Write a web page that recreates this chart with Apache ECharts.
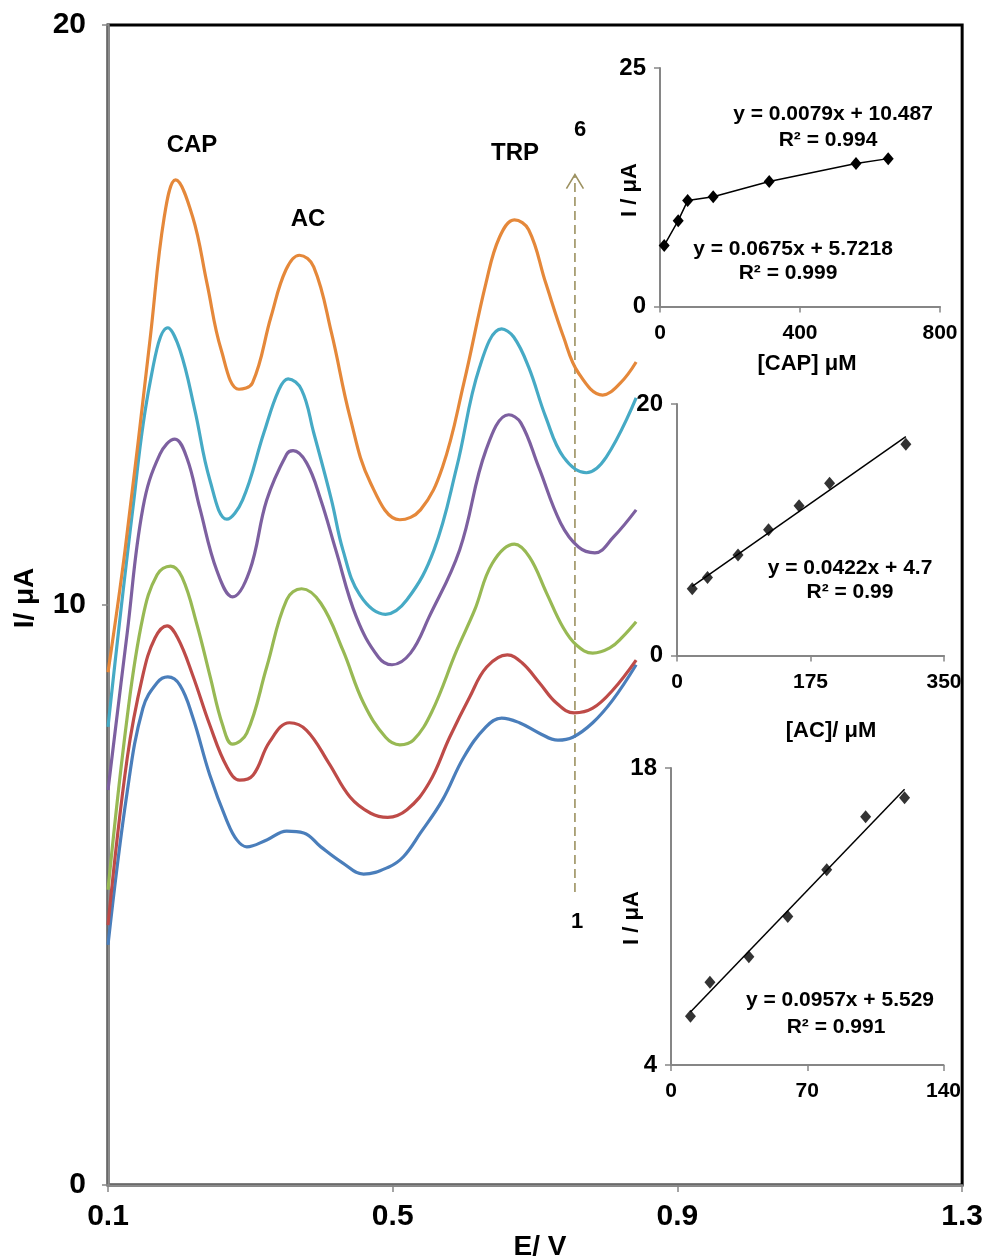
<!DOCTYPE html>
<html>
<head>
<meta charset="utf-8">
<script src="https://cdn.jsdelivr.net/npm/echarts@6/dist/echarts.min.js"></script>
<style>
html, body { margin: 0; padding: 0; background: #fff; }
#chart { width: 986px; height: 1260px; }
</style>
</head>
<body>
<div id="chart"></div>
<script>
// DPV curves 1..6, points as [E (V), I (uA)]
const curve1 = [[0.100, 4.14], [0.127, 6.78], [0.149, 8.22], [0.169, 8.66], [0.184, 8.76], [0.201, 8.62], [0.219, 8.07], [0.243, 7.07], [0.267, 6.28], [0.281, 5.95], [0.295, 5.83], [0.323, 5.95], [0.351, 6.10], [0.375, 6.07], [0.399, 5.83], [0.430, 5.55], [0.459, 5.36], [0.494, 5.48], [0.515, 5.66], [0.539, 6.07], [0.570, 6.64], [0.600, 7.38], [0.631, 7.90], [0.653, 8.05], [0.678, 7.97], [0.706, 7.79], [0.732, 7.67], [0.753, 7.72], [0.781, 7.97], [0.809, 8.36], [0.842, 8.97]]
const curve2 = [[0.100, 4.48], [0.127, 7.36], [0.149, 8.79], [0.166, 9.43], [0.183, 9.64], [0.198, 9.43], [0.219, 8.79], [0.243, 7.93], [0.267, 7.21], [0.285, 6.98], [0.304, 7.07], [0.327, 7.64], [0.355, 7.97], [0.379, 7.84], [0.410, 7.28], [0.440, 6.69], [0.469, 6.41], [0.493, 6.34], [0.520, 6.47], [0.551, 6.93], [0.580, 7.72], [0.608, 8.41], [0.632, 8.93], [0.661, 9.14], [0.682, 9.00], [0.706, 8.66], [0.730, 8.31], [0.755, 8.14], [0.781, 8.22], [0.809, 8.53], [0.842, 9.05]]
const curve3 = [[0.100, 5.09], [0.127, 8.07], [0.149, 9.79], [0.169, 10.52], [0.188, 10.67], [0.204, 10.48], [0.225, 9.66], [0.243, 8.79], [0.261, 7.93], [0.275, 7.60], [0.295, 7.79], [0.323, 8.93], [0.351, 10.09], [0.372, 10.28], [0.399, 10.03], [0.430, 9.22], [0.459, 8.31], [0.490, 7.72], [0.510, 7.59], [0.529, 7.67], [0.555, 8.16], [0.590, 9.22], [0.615, 9.91], [0.640, 10.72], [0.671, 11.05], [0.692, 10.83], [0.716, 10.21], [0.739, 9.62], [0.758, 9.31], [0.781, 9.17], [0.805, 9.26], [0.823, 9.45], [0.842, 9.71]]
const curve4 = [[0.100, 6.81], [0.127, 9.52], [0.149, 11.67], [0.173, 12.60], [0.194, 12.86], [0.211, 12.53], [0.229, 11.67], [0.253, 10.59], [0.275, 10.14], [0.299, 10.59], [0.323, 11.81], [0.351, 12.60], [0.360, 12.66], [0.379, 12.45], [0.399, 11.81], [0.420, 10.95], [0.449, 9.79], [0.480, 9.10], [0.499, 8.97], [0.525, 9.17], [0.551, 9.79], [0.594, 10.95], [0.631, 12.67], [0.663, 13.28], [0.680, 13.14], [0.705, 12.38], [0.736, 11.41], [0.761, 11.00], [0.784, 10.90], [0.810, 11.17], [0.842, 11.64]]
const curve5 = [[0.100, 7.90], [0.135, 11.67], [0.159, 13.83], [0.184, 14.78], [0.201, 14.40], [0.222, 13.36], [0.243, 12.16], [0.267, 11.48], [0.289, 11.81], [0.319, 12.97], [0.340, 13.71], [0.353, 13.90], [0.372, 13.71], [0.389, 12.97], [0.414, 11.81], [0.430, 10.95], [0.454, 10.17], [0.490, 9.84], [0.520, 10.09], [0.558, 10.95], [0.590, 12.38], [0.622, 14.10], [0.653, 14.76], [0.670, 14.62], [0.691, 14.10], [0.715, 13.24], [0.740, 12.55], [0.772, 12.28], [0.800, 12.55], [0.842, 13.57]]
const curve6 = [[0.100, 8.84], [0.124, 10.95], [0.159, 14.57], [0.179, 16.69], [0.195, 17.33], [0.219, 16.69], [0.239, 15.55], [0.259, 14.40], [0.284, 13.72], [0.303, 13.83], [0.329, 14.97], [0.350, 15.78], [0.369, 16.03], [0.389, 15.83], [0.414, 14.69], [0.440, 13.24], [0.469, 12.10], [0.510, 11.47], [0.539, 11.64], [0.570, 12.38], [0.600, 13.83], [0.631, 15.55], [0.650, 16.34], [0.671, 16.64], [0.691, 16.47], [0.715, 15.55], [0.740, 14.62], [0.761, 14.00], [0.795, 13.62], [0.820, 13.83], [0.842, 14.19]]

const curveColors = ['#4A7EBB', '#BE4B48', '#98B954', '#7D60A0', '#46AAC5', '#E5883A']

// calibration insets
const capConc = [12, 52, 79, 152, 312, 560, 652]
const capCurrent = [6.4, 9.0, 11.1, 11.5, 13.1, 15.0, 15.5]
const acConc = [20, 40, 80, 120, 160, 200, 300]
const acCurrent = [5.3, 6.2, 8.0, 10.0, 11.9, 13.7, 16.8]
const acTrend = [[20, 5.5], [300, 17.4]]
const trpConc = [10, 20, 40, 60, 80, 100, 120]
const trpCurrent = [6.3, 7.9, 9.1, 11.0, 13.2, 15.7, 16.6]
const trpTrend = [[10, 6.5], [120, 17.0]]

// tick labels
const mainXTicks = [0.1, 0.5, 0.9, 1.3]
const mainYTicks = [0, 10, 20]
const capXTicks = [0, 400, 800]
const capYTicks = [0, 25]
const acXTicks = [0, 175, 350]
const acYTicks = [0, 20]
const trpXTicks = [0, 70, 140]
const trpYTicks = [4, 18]

// arrow 1 -> 6
const arrowE = 0.756
const arrowFrom = 5.05
const arrowTo = 17.42

const FONT = "'Liberation Sans', Arial, sans-serif"
const AXIS_GRAY = '#868686'

function insetAxis (grid, min, max, ticks, isX) {
  return {
    type: 'value',
    gridIndex: grid,
    min: min,
    max: max,
    axisLine: { show: true, onZero: false, lineStyle: { color: AXIS_GRAY, width: 2 } },
    axisTick: { show: true, length: 6, customValues: ticks, lineStyle: { color: AXIS_GRAY, width: 1.5 } },
    axisLabel: {
      customValues: ticks,
      margin: isX ? 16 : 14,
      color: '#000',
      fontSize: isX ? 21 : 24,
      fontWeight: 'bold',
      fontFamily: FONT
    },
    splitLine: { show: false }
  }
}

function pairs (xs, ys) {
  return xs.map((x, i) => [x, ys[i]])
}

function txt (x, y, s, size, rot) {
  return {
    type: 'text',
    x: x,
    y: y,
    rotation: rot || 0,
    silent: true,
    style: {
      text: s,
      fill: '#000',
      fontSize: size,
      fontWeight: 'bold',
      fontFamily: FONT,
      align: 'center',
      verticalAlign: 'middle'
    }
  }
}

var myChart = echarts.init(document.getElementById('chart'))

const mainSeries = [curve1, curve2, curve3, curve4, curve5, curve6].map((c, i) => ({
  name: 'curve ' + (i + 1),
  type: 'line',
  xAxisIndex: 0,
  yAxisIndex: 0,
  data: c,
  smooth: 0.4,
  showSymbol: false,
  lineStyle: { color: curveColors[i], width: 3.2 },
  itemStyle: { color: curveColors[i] },
  z: 3
}))

const marker = { symbol: 'diamond', symbolSize: [11, 13], itemStyle: { color: '#000' } }

myChart.setOption({
  animation: false,
  grid: [
    { left: 108, top: 25, width: 855, height: 1160, show: true, borderColor: '#000', borderWidth: 3 },
    { left: 660, top: 68, width: 280, height: 238.5 },
    { left: 677, top: 404, width: 267, height: 251.5 },
    { left: 671, top: 768, width: 272.5, height: 297 }
  ],
  xAxis: [
    {
      type: 'value',
      gridIndex: 0,
      min: 0.1,
      max: 1.3,
      axisLine: { show: true, onZero: false, lineStyle: { color: '#8c8c8c', width: 2.5 } },
      axisTick: { show: true, length: 7, customValues: mainXTicks, lineStyle: { color: AXIS_GRAY, width: 1.5 } },
      axisLabel: {
        customValues: mainXTicks,
        margin: 17,
        color: '#000',
        fontSize: 30,
        fontWeight: 'bold',
        fontFamily: FONT,
        formatter: v => v.toFixed(1)
      },
      splitLine: { show: false }
    },
    insetAxis(1, 0, 800, capXTicks, true),
    insetAxis(2, 0, 350, acXTicks, true),
    insetAxis(3, 0, 140, trpXTicks, true)
  ],
  yAxis: [
    {
      type: 'value',
      gridIndex: 0,
      min: 0,
      max: 20,
      interval: 10,
      axisLine: { show: true, onZero: false, lineStyle: { color: '#8c8c8c', width: 2.5 } },
      axisTick: { show: true, length: 6, lineStyle: { color: AXIS_GRAY, width: 1.5 } },
      axisLabel: {
        margin: 22,
        color: '#000',
        fontSize: 30,
        fontWeight: 'bold',
        fontFamily: FONT
      },
      splitLine: { show: false }
    },
    insetAxis(1, 0, 25, capYTicks, false),
    insetAxis(2, 0, 20, acYTicks, false),
    insetAxis(3, 4, 18, trpYTicks, false)
  ],
  series: mainSeries.concat([
    Object.assign({
      name: 'CAP',
      type: 'line',
      xAxisIndex: 1,
      yAxisIndex: 1,
      data: pairs(capConc, capCurrent),
      lineStyle: { color: '#000', width: 1.5 }
    }, marker),
    Object.assign({
      name: 'AC',
      type: 'scatter',
      xAxisIndex: 2,
      yAxisIndex: 2,
      data: pairs(acConc, acCurrent)
    }, marker),
    {
      name: 'AC fit',
      type: 'line',
      xAxisIndex: 2,
      yAxisIndex: 2,
      data: acTrend,
      showSymbol: false,
      lineStyle: { color: '#000', width: 1.5 }
    },
    Object.assign({
      name: 'TRP',
      type: 'scatter',
      xAxisIndex: 3,
      yAxisIndex: 3,
      data: pairs(trpConc, trpCurrent)
    }, marker),
    {
      name: 'TRP fit',
      type: 'line',
      xAxisIndex: 3,
      yAxisIndex: 3,
      data: trpTrend,
      showSymbol: false,
      lineStyle: { color: '#000', width: 1.5 }
    }
  ])
})

// arrow from curve 1 to curve 6
const p0 = myChart.convertToPixel({ gridIndex: 0 }, [arrowE, arrowFrom])
const p1 = myChart.convertToPixel({ gridIndex: 0 }, [arrowE, arrowTo])
const arrowColor = '#9C9160'

myChart.setOption({
  graphic: [
    {
      type: 'polyline',
      silent: true,
      shape: { points: [p0, p1] },
      style: { stroke: arrowColor, lineWidth: 1.6, lineDash: [9, 5], fill: null }
    },
    {
      type: 'polyline',
      silent: true,
      shape: { points: [[p1[0] - 8.5, p1[1] + 14], p1, [p1[0] + 8.5, p1[1] + 14]] },
      style: { stroke: arrowColor, lineWidth: 1.6, fill: null }
    },
    txt(192, 145, 'CAP', 24),
    txt(308, 219, 'AC', 24),
    txt(515, 153, 'TRP', 24),
    txt(580, 130, '6', 22),
    txt(577, 922, '1', 22),
    txt(25, 598, 'I/ μA', 28, Math.PI / 2),
    txt(540, 1247, 'E/ V', 28),
    txt(833, 114, 'y = 0.0079x + 10.487', 21),
    txt(828, 140, 'R² = 0.994', 21),
    txt(793, 249, 'y = 0.0675x + 5.7218', 21),
    txt(788, 273, 'R² = 0.999', 21),
    txt(807, 364, '[CAP] μM', 22),
    txt(630, 190, 'I / μA', 22, Math.PI / 2),
    txt(850, 568, 'y = 0.0422x + 4.7', 21),
    txt(850, 592, 'R² = 0.99', 21),
    txt(831, 731, '[AC]/ μM', 22),
    txt(840, 1000, 'y = 0.0957x + 5.529', 21),
    txt(836, 1027, 'R² = 0.991', 21),
    txt(632, 918, 'I / μA', 22, Math.PI / 2)
  ]
})
</script>
</body>
</html>
